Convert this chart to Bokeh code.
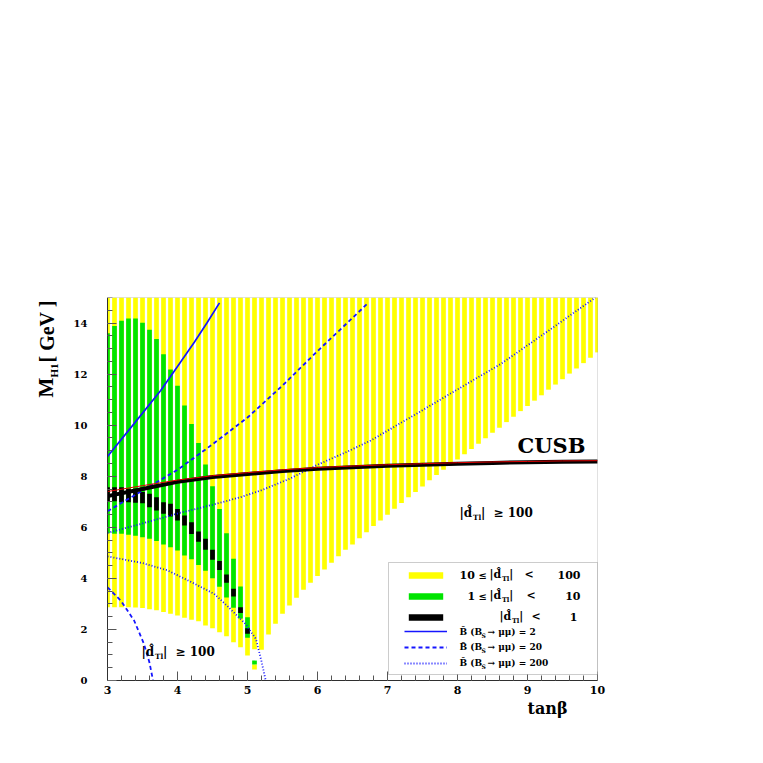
import math
from bokeh.plotting import figure
from bokeh.models import Label, FixedTicker, BoxAnnotation, Legend, LegendItem, Range1d
from bokeh.embed import file_html
from bokeh.resources import INLINE

# ---------------- data ----------------
tanb = [3.0, 3.1, 3.2, 3.3, 3.4, 3.5, 3.6, 3.7, 3.8, 3.9,
        4.0, 4.1, 4.2, 4.3, 4.4, 4.5, 4.6, 4.7, 4.8, 4.9,
        5.0, 5.1, 5.2, 5.3, 5.4, 5.5, 5.6, 5.7, 5.8, 5.9,
        6.0, 6.1, 6.2, 6.3, 6.4, 6.5, 6.6, 6.7, 6.8, 6.9,
        7.0, 7.1, 7.2, 7.3, 7.4, 7.5, 7.6, 7.7, 7.8, 7.9,
        8.0, 8.1, 8.2, 8.3, 8.4, 8.5, 8.6, 8.7, 8.8, 8.9,
        9.0, 9.1, 9.2, 9.3, 9.4, 9.5, 9.6, 9.7, 9.8, 9.9, 10.0]

# 10 <= |d| < 100 (yellow)
yellow_lo = [2.87, 2.87, 2.87, 2.87, 2.86, 2.84, 2.79, 2.75, 2.68, 2.61,
             2.55, 2.46, 2.38, 2.32, 2.15, 2.05, 1.89, 1.73, 1.50, 1.30,
             0.98, 1.22, 1.20, 1.80, 2.22, 2.61, 2.94, 3.24, 3.55, 3.83,
             4.09, 4.35, 4.61, 4.87, 5.12, 5.33, 5.57, 5.81, 6.05, 6.27,
             6.49, 6.73, 6.95, 7.18, 7.38, 7.60, 7.84, 8.05, 8.25, 8.46,
             8.66, 8.86, 9.07, 9.27, 9.49, 9.70, 9.90, 10.12, 10.33, 10.55,
             10.75, 10.96, 11.17, 11.39, 11.59, 11.80, 12.02, 12.22, 12.43, 12.64, 12.85]
yellow_hi = [15.0] * 71
island_tanb = [5.1]
island_lo = [0.43]
island_hi = [0.63]

# 1 <= |d| < 10 (green), tanb 3.0 ... 5.1
green_tanb = tanb[:22]
green_lo = [5.77, 5.75, 5.75, 5.71, 5.67, 5.61, 5.55, 5.46, 5.33, 5.22,
            5.09, 4.90, 4.75, 4.52, 4.30, 4.00, 3.67, 3.25, 2.85, 2.43,
            1.67, 0.63]
green_hi = [13.60, 13.88, 14.09, 14.18, 14.18, 14.01, 13.74, 13.37, 12.78, 12.18,
            11.54, 10.77, 10.05, 9.30, 8.46, 7.61, 6.72, 5.77, 4.77, 3.68,
            2.48, 0.78]

# |d| < 1 (black), tanb 3.0 ... 5.0
black_tanb = tanb[:21]
black_lo = [7.02, 7.02, 6.98, 6.98, 6.96, 6.94, 6.79, 6.66, 6.53, 6.42,
            6.27, 6.07, 5.74, 5.43, 5.12, 4.73, 4.33, 3.83, 3.29, 2.64, 1.83]
black_hi = [7.57, 7.57, 7.57, 7.51, 7.51, 7.38, 7.31, 7.18, 6.98, 6.92,
            6.72, 6.46, 6.20, 5.84, 5.55, 5.12, 4.68, 4.15, 3.59, 2.87, 2.05]

# B(Bs -> mu mu) = 2
b2_x = [3.0, 3.38, 3.76, 4.0, 4.24, 4.42, 4.6]
b2_y = [8.77, 10.06, 11.36, 12.30, 13.25, 14.00, 14.79]
# = 20 (two branches)
b20_up_x = [3.0, 3.5, 4.0, 4.5, 5.0, 5.5, 6.0, 6.5, 6.72]
b20_up_y = [6.63, 7.44, 8.25, 9.25, 10.30, 11.55, 12.90, 14.20, 14.78]
b20_lo_x = [3.0, 3.19, 3.38, 3.52, 3.6, 3.65]
b20_lo_y = [3.65, 3.13, 2.35, 1.44, 0.70, 0.0]
# = 200 (two branches)
b200_up_x = [3.0, 3.5, 4.0, 4.5, 4.9, 5.19, 5.6, 6.0, 6.4, 6.76, 7.33, 8.0, 8.62, 9.3, 9.97]
b200_up_y = [5.78, 6.15, 6.54, 6.88, 7.18, 7.44, 7.90, 8.45, 8.93, 9.40, 10.31, 11.40, 12.40, 13.70, 15.0]
b200_lo_x = [3.0, 3.5, 3.86, 4.2, 4.52, 4.7, 4.97, 5.12, 5.2, 5.26]
b200_lo_y = [4.86, 4.60, 4.31, 3.85, 3.40, 2.95, 2.22, 1.63, 0.75, 0.0]

# CUSB limit
cusb_x = [3.0, 3.5, 4.0, 4.5, 5.0, 5.5, 6.0, 6.5, 7.0, 7.5, 8.0, 8.5, 9.0, 9.5, 10.0]
cusb_black_y = [7.22, 7.50, 7.78, 7.97, 8.09, 8.20, 8.29, 8.35, 8.41, 8.45, 8.49, 8.52, 8.55, 8.57, 8.58]
cusb_red_y = [7.40, 7.63, 7.85, 8.02, 8.14, 8.25, 8.34, 8.40, 8.45, 8.49, 8.53, 8.56, 8.58, 8.60, 8.61]

x_ticks = [3, 4, 5, 6, 7, 8, 9, 10]
y_ticks = [0, 2, 4, 6, 8, 10, 12, 14]

# ---------------- geometry of the canvas ----------------
CW, CH = 745, 745          # canvas size
X0, XS = 107.0, 70.0       # page px of tanb=3, px per unit
Y0, YS = 680.0, 383.0 / 15.0

p = figure(width=CW, height=CH,
           x_range=Range1d(3 - X0 / XS, 3 + (CW - X0) / XS),
           y_range=Range1d(-(CH - Y0) / YS, Y0 / YS),
           output_backend="svg", toolbar_location=None, min_border=0)
p.min_border_left = p.min_border_right = p.min_border_top = p.min_border_bottom = 0
p.xgrid.visible = False
p.ygrid.visible = False
p.outline_line_color = None

p.xaxis.fixed_location = 0
p.xaxis.bounds = (3, 10)
p.yaxis.fixed_location = 3
p.yaxis.bounds = (0, 15)
p.xaxis.ticker = FixedTicker(ticks=x_ticks, minor_ticks=[3 + 0.2 * i for i in range(36)])
p.yaxis.ticker = FixedTicker(ticks=y_ticks, minor_ticks=[0.5 * i for i in range(31)])
for ax in (p.xaxis, p.yaxis):
    ax.major_tick_in = 9
    ax.major_tick_out = 0
    ax.minor_tick_in = 5
    ax.minor_tick_out = 0
    ax.axis_line_color = "black"
    ax.major_tick_line_color = "#555555"
    ax.minor_tick_line_color = "#555555"
    ax.major_label_text_font = "DejaVu Serif"
    ax.major_label_text_font_style = "bold"
    ax.major_label_text_color = "black"
p.xaxis.major_label_text_font_size = "11px"
p.yaxis.major_label_text_font_size = "10px"
p.xaxis.major_label_standoff = 5
p.yaxis.major_label_standoff = 20

W = 0.067
yel = p.vbar(x=tanb, width=W, bottom=yellow_lo, top=yellow_hi, fill_color="#ffff00", line_color=None)
p.vbar(x=island_tanb, width=W, bottom=island_lo, top=island_hi, fill_color="#ffff00", line_color=None)
grn = p.vbar(x=green_tanb, width=W, bottom=green_lo, top=green_hi, fill_color="#00e400", line_color=None)
blk = p.vbar(x=black_tanb, width=W, bottom=black_lo, top=black_hi, fill_color="black", line_color=None)

BLUE = "#1515ff"
l2 = p.line(b2_x, b2_y, line_color=BLUE, line_width=1.7)
l20 = p.multi_line(xs=[b20_up_x, b20_lo_x], ys=[b20_up_y, b20_lo_y], line_color=BLUE,
                   line_width=1.8, line_dash="4 3")
l200 = p.multi_line(xs=[b200_up_x, b200_lo_x], ys=[b200_up_y, b200_lo_y], line_color=BLUE,
                    line_width=1.8, line_dash="1 2")
p.line(cusb_x, cusb_black_y, line_color="black", line_width=4)
p.line(cusb_x, cusb_red_y, line_color="#e00000", line_width=1)

# white masks so that the half bars at tanb = 3 and 10 stop at the frame
p.add_layout(BoxAnnotation(left=2.9, right=2.993, bottom=0, top=15.2, fill_color="white",
                           fill_alpha=1, line_color=None))
p.add_layout(BoxAnnotation(left=10.007, right=10.1, bottom=0, top=15.2, fill_color="white",
                           fill_alpha=1, line_color=None))
p.add_layout(BoxAnnotation(left=2.9, right=10.1, bottom=15.0, top=15.2, fill_color="white",
                           fill_alpha=1, line_color=None))
# frame
p.add_layout(BoxAnnotation(left=3, right=10, bottom=0, top=15, fill_alpha=0,
                           line_color="#9a9a9a", line_width=1))

# ---------------- helpers for text placement (page pixels -> data) ----------------
def px2x(px):
    return 3 + (px - X0) / XS

def py2y(py):
    return (Y0 - py) / YS

def put(px, py, text, size, font="DejaVu Serif", align="left", angle=0.0):
    """(px, py): page position of the start of the text's baseline."""
    off = 0.35 * size
    if angle == 0.0:
        ax, ay = px, py - off
    else:
        ax, ay = px - off, py
    p.add_layout(Label(x=px2x(ax), y=py2y(ay), text=text, text_font=font, text_font_style="bold",
                       text_font_size=f"{size}px", text_align=align, text_baseline="middle",
                       angle=angle, text_color="black"))

def dhat(x0, base, size):
    put(x0, base, "|d\u0302", size)
    put(x0 + 1.13 * size, base + 0.25 * size, "Tl", round(0.6 * size, 1))
    put(x0 + 1.80 * size, base, "|", size)

# legend frame
p.add_layout(BoxAnnotation(left=px2x(388), right=10, bottom=py2y(674), top=py2y(562),
                           fill_color="white", fill_alpha=1, line_color="#555555", line_width=1))

leg1 = Legend(items=[LegendItem(label=" ", renderers=[yel]),
                     LegendItem(label=" ", renderers=[grn]),
                     LegendItem(label=" ", renderers=[blk])],
              location=(404, CH - 620.5), orientation="vertical", padding=0, margin=0, spacing=13,
              glyph_width=43, glyph_height=8, label_height=8, label_width=0, label_standoff=0,
              label_text_font_size="1px", border_line_color=None, background_fill_alpha=0)
leg2 = Legend(items=[LegendItem(label=" ", renderers=[l2]),
                     LegendItem(label=" ", renderers=[l20]),
                     LegendItem(label=" ", renderers=[l200])],
              location=(404, CH - 667), orientation="vertical", padding=0, margin=0, spacing=8,
              glyph_width=43, glyph_height=8, label_height=8, label_width=0, label_standoff=0,
              label_text_font_size="1px", border_line_color=None, background_fill_alpha=0)
p.add_layout(leg1)
p.add_layout(leg2)

# legend texts
put(459, 578, "10", 11)
put(478, 578, "\u2264", 10)
dhat(489, 578, 11)
put(524, 578, "<", 11)
put(580, 578, "100", 11, align="right")

put(467, 599, "1", 11)
put(478, 599, "\u2264", 10)
dhat(489, 599, 11)
put(526, 599, "<", 11)
put(580, 599, "10", 11, align="right")

dhat(499, 620, 11)
put(531, 620, "<", 11)
put(577, 620, "1", 11, align="right")

for base, num in ((634.5, "2"), (650, "20"), (665.5, "200")):
    put(459, base, "B\u0302 (B", 9)
    put(481, base + 2.5, "S", 6)
    put(487, base, "\u2192 \u03bc\u03bc) = " + num, 9)

# annotations in the plot
put(517, 452, "CUSB", 21)
dhat(459, 517, 12)
put(493, 517, "\u2265 100", 12)
dhat(141, 656, 12)
put(175, 656, "\u2265 100", 12)

# axis titles
put(527, 714, "tan\u03b2", 16)
put(53, 397, "M", 21, font="Liberation Serif", angle=math.pi / 2)
put(57, 377, "H1", 11, font="Liberation Serif", angle=math.pi / 2)
put(53, 362, "[ GeV ]", 20, font="Liberation Serif", angle=math.pi / 2)

open("out.html", "w").write(file_html(p, INLINE))
